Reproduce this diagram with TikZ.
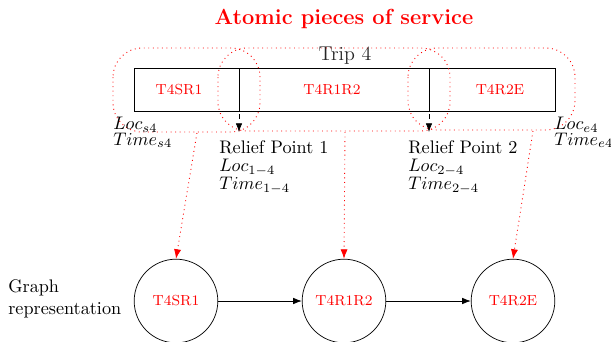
\documentclass[tikz,border=0pt]{standalone}
\usetikzlibrary{arrows.meta}
\begin{document}
\begin{tikzpicture}[x=0.55pt,y=-0.55pt,
  redtxt/.style={text=red,font=\footnotesize},
  piece/.style={red,dotted,line width=0.5pt,rounded corners=16pt},
  redarrow/.style={red,dotted,line width=0.5pt,-{Latex}},
  relief/.style={dashed,-{Latex}},
  gnode/.style={draw,circle,minimum size=46pt,inner sep=0pt,redtxt},
  garrow/.style={-{Latex}},
  info/.style={align=left,inner sep=0pt,anchor=north west}]
\useasboundingbox (0,0) rectangle (611,342);
% title
\node[text=red,font=\large\bfseries] (title) at (344,19) {Atomic pieces of service};
\node[font=\fontsize{11}{13}\selectfont,text=black!85] (trip) at (345,56) {Trip 4};
% trip bar
\draw (134,68) rectangle (555,111);
\draw (239,68) -- (239,111);
\draw (429,68) -- (429,111);
\node[redtxt] (s1) at (179,90) {T4SR1};
\node[redtxt] (s2) at (332,90) {T4R1R2};
\node[redtxt] (s3) at (500,90) {T4R2E};
% dotted pieces
\draw[piece] (113,48) rectangle (260,132);
\draw[piece] (218,48) rectangle (450,131);
\draw[piece] (408,48) rectangle (575,130);
% relief arrows
\coordinate (r1a) at (239,92);
\coordinate (r1b) at (239,132);
\coordinate (r2a) at (429,92);
\coordinate (r2b) at (429,132);
\draw[relief] (r1a) -- (r1b);
\draw[relief] (r2a) -- (r2b);
% labels
\node[info] (ls) at (113,117) {$Loc_{s4}$\\[-3.5pt]$Time_{s4}$};
\node[info] (le) at (554,117) {$Loc_{e4}$\\[-3.5pt]$Time_{e4}$};
\node[info] (rp1) at (219,140) {Relief Point 1\\[-2pt]$Loc_{1-4}$\\[-2pt]$Time_{1-4}$};
\node[info] (rp2) at (408,140) {Relief Point 2\\[-2pt]$Loc_{2-4}$\\[-2pt]$Time_{2-4}$};
% graph
\node[align=left,anchor=west,inner sep=0pt] (gr) at (8,299) {Graph\\representation};
\node[gnode] (c1) at (176,301) {T4SR1};
\node[gnode] (c2) at (344,301) {T4R1R2};
\node[gnode] (c3) at (513,301) {T4R2E};
\draw[garrow] (c1) -- (c2);
\draw[garrow] (c2) -- (c3);
% mapping arrows
\coordinate (p1) at (197,133);
\coordinate (p2) at (345,132);
\coordinate (p3) at (533,131);
\draw[redarrow] (p1) -- (c1.north);
\draw[redarrow] (p2) -- (c2.north);
\draw[redarrow] (p3) -- (c3.north);
\end{tikzpicture}
\end{document}
